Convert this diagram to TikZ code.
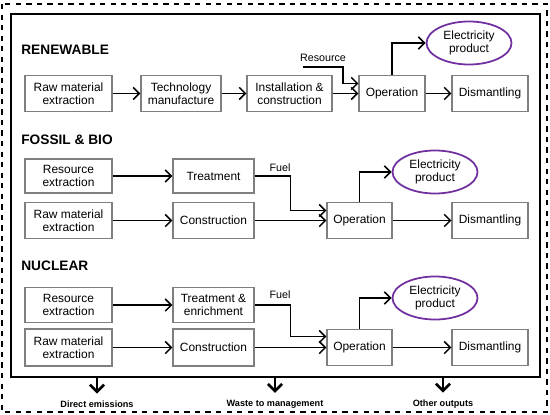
\documentclass[tikz,border=0pt]{standalone}
\usepackage{fontspec}
\setmainfont{Liberation Sans}
\usepackage{xcolor}
\usetikzlibrary{shapes.geometric, arrows.meta, positioning}
\definecolor{boxline}{HTML}{7F7F7F}
\definecolor{elec}{HTML}{7030A0}

\begin{document}
\begin{tikzpicture}[x=0.02cm, y=-0.02cm,
  font=\fontsize{6.8}{7.6}\selectfont,
  box/.style={draw=boxline, line width=0.6pt, align=center, inner sep=1pt, minimum height=0.71cm},
  prod/.style={ellipse, draw=elec, line width=1pt, align=center, inner sep=0pt, minimum width=1.7cm, minimum height=0.86cm},
  arr/.style={-{Straight Barb[length=3.5pt, width=7pt]}, line width=0.9pt},
  head/.style={anchor=west, inner sep=0pt, font=\fontsize{7.8}{9}\selectfont\bfseries},
  outlbl/.style={font=\fontsize{5.2}{6}\selectfont\bfseries, inner sep=1pt}]
  \useasboundingbox (0,0) rectangle (550,415);
  % Frames
  \draw[dashed, line width=0.6pt] (2,4) rectangle (547,412);
  \node[draw, line width=1.2pt, minimum width=10.58cm, minimum height=7.26cm] (frame) at (275.5,195.5) {};
  % Renewable
  \node[head] (lren) at (21,50) {RENEWABLE};
  \node[box, minimum width=1.74cm] (rraw) at (68.5,93.5) {Raw material\\extraction};
  \node[box, minimum width=1.6cm] (rtech) at (181,93.5) {Technology\\manufacture};
  \node[box, minimum width=1.7cm] (rinst) at (289.5,93.5) {Installation \&\\construction};
  \node[box, minimum width=1.32cm] (rop) at (392,93.5) {Operation};
  \node[box, minimum width=1.52cm] (rdis) at (490,93.5) {Dismantling};
  \node[prod] (relec) at (469,43) {Electricity\\product};
  \node[font=\fontsize{6.1}{7}\selectfont] (rres) at (323,58) {Resource};
  \coordinate (rresin) at (303,67);
  \draw[arr] (rraw) -- (rtech);
  \draw[arr] (rtech) -- (rinst);
  \draw[arr] (rinst) -- (rop);
  \draw[arr] (rresin) -- (343,67) |- ([yshift=0.2cm]rop.west);
  \draw[arr] (rop.north) |- (relec.west);
  \draw[arr] (rop) -- (rdis);
  % Fossil & bio
  \node[head] (lfos) at (21,140) {FOSSIL \& BIO};
  \node[box, minimum width=1.74cm, minimum height=0.68cm] (fres) at (68.5,176) {Resource\\extraction};
  \node[box, minimum width=1.62cm, minimum height=0.68cm] (ftreat) at (213.5,176) {Treatment};
  \node[box, minimum width=1.74cm] (fraw) at (68.5,220.5) {Raw material\\extraction};
  \node[box, minimum width=1.62cm] (fcons) at (213.5,220.5) {Construction};
  \node[box, minimum width=1.3cm] (fop) at (359.5,220.5) {Operation};
  \node[box, minimum width=1.52cm] (fdis) at (490,220.5) {Dismantling};
  \node[prod] (felec) at (435,172) {Electricity\\product};
  \node[font=\fontsize{6.1}{7}\selectfont] (ffuel) at (280,168) {Fuel};
  \draw[arr] (fres) -- (ftreat);
  \draw[arr] (fraw) -- (fcons);
  \draw[arr] (ftreat.east) -- ++(36,0) |- ([yshift=0.2cm]fop.west);
  \draw[arr] (fcons) -- (fop);
  \draw[arr] (fop.north) |- (felec.west);
  \draw[arr] (fop) -- (fdis);
  % Nuclear
  \node[head] (lnuc) at (21,266) {NUCLEAR};
  \node[box, minimum width=1.74cm] (nres) at (68.5,305) {Resource\\extraction};
  \node[box, minimum width=1.62cm] (ntreat) at (213.5,305) {Treatment \&\\enrichment};
  \node[box, minimum width=1.74cm, minimum height=0.74cm] (nraw) at (68.5,347.5) {Raw material\\extraction};
  \node[box, minimum width=1.62cm, minimum height=0.74cm] (ncons) at (213.5,347.5) {Construction};
  \node[box, minimum width=1.3cm, minimum height=0.72cm] (nop) at (359.5,347.5) {Operation};
  \node[box, minimum width=1.52cm, minimum height=0.72cm] (ndis) at (490,347.5) {Dismantling};
  \node[prod] (nelec) at (435,298) {Electricity\\product};
  \node[font=\fontsize{6.1}{7}\selectfont] (nfuel) at (280,295) {Fuel};
  \draw[arr] (nres) -- (ntreat);
  \draw[arr] (nraw) -- (ncons);
  \draw[arr] (ntreat.east) -- ++(36,0) |- ([yshift=0.22cm]nop.west);
  \draw[arr] (ncons) -- (nop);
  \draw[arr] (nop.north) |- (nelec.west);
  \draw[arr] (nop) -- (ndis);
  % Outputs
  \node[outlbl] (odirect) at (97,404) {Direct emissions};
  \node[outlbl] (owaste) at (275,404) {Waste to management};
  \node[outlbl] (oother) at (443,404) {Other outputs};
  \foreach \o in {odirect, owaste, oother}
    \draw[-{Straight Barb[length=4pt, width=8pt]}, line width=1.5pt] (frame.south -| \o.north) -- ([yshift=0.1cm]\o.north);
\end{tikzpicture}
\end{document}
